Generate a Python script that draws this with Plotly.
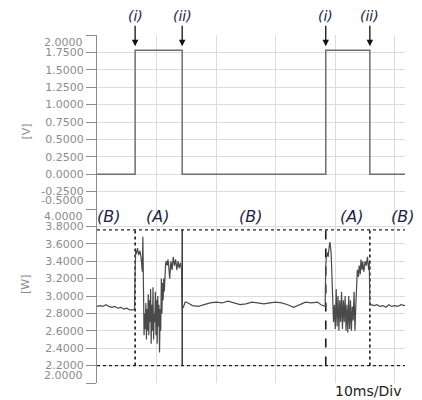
import plotly.graph_objects as go
from plotly.subplots import make_subplots

# ---------------- data ----------------
# Voltage trace (ms, V)
v_time = [0.0, 6.4, 6.4, 14.3, 14.3, 38.4, 38.4, 45.8, 45.8, 51.7]
v_vals = [0.0, 0.0, 1.78, 1.78, 0.0, 0.0, 1.78, 1.78, 0.0, 0.0]

# Power trace (ms, W)
p_time = [
    0.0, 0.5, 1.0, 1.5, 2.0, 2.5, 3.0, 3.5, 4.0, 4.5, 5.0, 5.5, 6.0, 6.3,
    6.4, 6.5, 6.6, 6.8, 7.0, 7.2, 7.4, 7.6, 7.7, 7.8, 7.9, 8.0, 8.1, 8.2, 8.3, 8.4,
    8.5, 8.6, 8.7, 8.8, 8.9, 9.0, 9.1, 9.2, 9.3, 9.4, 9.5, 9.6, 9.7, 9.8, 9.9,
    10.0, 10.1, 10.2, 10.3, 10.4, 10.5, 10.6, 10.7, 10.8, 10.9, 11.0, 11.1,
    11.2, 11.3, 11.5, 11.6, 11.8, 11.9, 12.0, 12.2, 12.4, 12.6, 12.8, 13.0,
    13.2, 13.4, 13.6, 13.8, 14.0, 14.2, 14.3, 14.5,
    14.8, 15.0, 15.5, 16.0, 17.0, 18.0, 19.0, 20.0, 21.0, 22.0, 23.0, 24.0,
    25.0, 26.0, 27.0, 28.0, 29.0, 30.0, 31.0, 32.0, 33.0, 34.0, 35.0, 36.0,
    37.0, 37.6, 38.3,
    38.4, 38.5, 38.7, 38.8, 39.0, 39.1, 39.3, 39.5, 39.6, 39.7, 39.85, 40.0,
    40.15, 40.3, 40.45, 40.6, 40.75, 40.9, 41.05, 41.2, 41.35, 41.5, 41.65, 41.8,
    41.95, 42.1, 42.25, 42.4, 42.55, 42.7, 42.85, 43.0, 43.15, 43.3, 43.45,
    43.6, 43.7, 43.9, 44.0, 44.2, 44.3, 44.5, 44.6, 44.8, 45.0, 45.2, 45.4,
    45.6, 45.7, 45.8,
    46.0, 46.5, 47.0, 47.5, 48.0, 48.5, 49.0, 49.5, 50.0, 50.5, 51.0, 51.7,
]
p_vals = [
    2.88, 2.89, 2.88, 2.90, 2.88, 2.87, 2.88, 2.86, 2.87, 2.85, 2.86, 2.84, 2.84, 2.85,
    3.30, 3.52, 3.48, 3.55, 3.47, 3.52, 3.44, 3.28, 3.68, 3.10, 2.55, 2.80, 2.62, 2.92, 2.50, 2.85,
    2.60, 3.02, 2.55, 2.95, 2.70, 3.08, 2.45, 2.90, 2.60, 3.10, 2.50, 2.80, 2.70, 3.05, 2.55,
    2.95, 2.45, 3.00, 2.65, 2.90, 2.35, 2.85, 2.60, 3.20, 2.80, 3.15, 2.95,
    3.20, 3.05, 3.35, 3.40, 3.35, 3.42, 3.38, 3.20, 3.40, 3.30, 3.45, 3.35,
    3.42, 3.30, 3.40, 3.32, 3.38, 3.30, 2.86, 2.87,
    2.93, 2.93, 2.91, 2.89, 2.88, 2.90, 2.92, 2.93, 2.92, 2.94, 2.92, 2.90,
    2.91, 2.93, 2.92, 2.91, 2.92, 2.93, 2.92, 2.90, 2.87, 2.90, 2.93, 2.92,
    2.93, 2.90, 2.88,
    3.35, 3.45, 3.50, 3.45, 3.58, 3.62, 3.50, 3.18, 3.05, 2.70, 2.90, 2.62,
    3.08, 2.65, 3.00, 2.60, 2.95, 2.70, 3.05, 2.62, 2.95, 2.70, 3.00, 2.60,
    2.90, 2.58, 3.00, 2.62, 2.95, 2.60, 2.88, 2.72, 3.05, 2.60, 2.90,
    3.20, 3.30, 3.22, 3.35, 3.25, 3.42, 3.30, 3.40, 3.28, 3.40, 3.35, 3.45,
    3.30, 3.38, 2.92,
    2.90, 2.89, 2.90, 2.88, 2.89, 2.87, 2.90, 2.88, 2.89, 2.88, 2.90, 2.89,
]

# Tick labels
v_ticks = [-0.5, -0.25, 0.0, 0.25, 0.5, 0.75, 1.0, 1.25, 1.5, 1.75, 2.0]
v_ticktext = ["", "-0.2500", "0.0000", "0.2500", "0.5000", "0.7500", "1.0000",
              "1.2500", "1.5000", "1.7500", ""]
p_ticks = [2.0, 2.2, 2.4, 2.6, 2.8, 3.0, 3.2, 3.4, 3.6, 3.8, 4.0]
p_ticktext = ["", "2.2000", "2.4000", "2.6000", "2.8000", "3.0000", "3.2000",
              "3.4000", "3.6000", "3.8000", ""]
x_ticks = [0, 10, 20, 30, 40, 50]

# Region box (dashed) markers
box_top, box_bottom = 3.76, 2.2
box_edges = [6.4, 14.3, 38.4, 45.8]
edge_dash = ["dot", "solid", "dash", "dot"]

# Region labels
region_labels = ["(B)", "(A)", "(B)", "(A)", "(B)"]
region_x = [1.85, 10.1, 25.7, 42.8, 51.2]
arrow_labels = ["(i)", "(ii)", "(i)", "(ii)"]
arrow_x = [6.4, 14.3, 38.4, 45.8]

X_MAX = 51.7

# ---------------- figure ----------------
fig = make_subplots(rows=2, cols=1, shared_xaxes=True, vertical_spacing=0)

fig.add_trace(go.Scatter(x=v_time, y=v_vals, mode="lines",
                         line=dict(color="#6e6e6e", width=1.5),
                         showlegend=False), row=1, col=1)

# horizontal dashed lines (full width)
for yv in [box_top, box_bottom]:
    fig.add_trace(go.Scatter(x=[0, X_MAX], y=[yv, yv], mode="lines",
                             line=dict(color="#222222", width=1.4, dash="dot"),
                             showlegend=False), row=2, col=1)
# vertical box lines
for xe, ds in zip(box_edges, edge_dash):
    fig.add_trace(go.Scatter(x=[xe, xe], y=[box_bottom, box_top], mode="lines",
                             line=dict(color="#1a1a1a", width=1.6 if ds != "solid" else 1.3, dash=ds),
                             showlegend=False), row=2, col=1)

fig.add_trace(go.Scatter(x=p_time, y=p_vals, mode="lines",
                         line=dict(color="#4a4a4a", width=1.2),
                         showlegend=False), row=2, col=1)

grid = "#dcdcdc"
tick_font = dict(family="DejaVu Sans", size=11, color="#8c8c8c")

for r in (1, 2):
    fig.update_xaxes(range=[0, X_MAX], tickvals=x_ticks, showticklabels=False,
                     showgrid=True, gridcolor=grid, gridwidth=1, zeroline=False,
                     showline=False, ticks="", row=r, col=1)

fig.update_yaxes(range=[-0.5, 2.0], tickvals=v_ticks, ticktext=v_ticktext,
                 showgrid=True, gridcolor=grid, zeroline=False,
                 showline=True, linecolor="#8c8c8c", linewidth=1.2,
                 ticks="outside", ticklen=10, tickcolor="#8c8c8c",
                 tickfont=tick_font, row=1, col=1)
fig.update_yaxes(range=[2.0, 4.0], tickvals=p_ticks, ticktext=p_ticktext,
                 showgrid=True, gridcolor=grid, zeroline=False,
                 showline=True, linecolor="#8c8c8c", linewidth=1.2,
                 ticks="outside", ticklen=10, tickcolor="#8c8c8c",
                 tickfont=tick_font, row=2, col=1)

annotations = []
# extreme tick labels shifted inward
for txt, yv, yref, ys in [("2.0000", 2.0, "y", -7), ("-0.5000", -0.5, "y", 9),
                          ("4.0000", 4.0, "y2", -7), ("2.0000", 2.0, "y2", 8)]:
    annotations.append(dict(text=txt, x=0, xref="paper", y=yv, yref=yref,
                            xanchor="right", yanchor="middle", xshift=-12, yshift=ys,
                            showarrow=False, font=tick_font))
# axis titles
annotations.append(dict(text="[V]", x=0, xref="paper", y=0.75, yref="paper",
                        xshift=-80, textangle=-90, showarrow=False,
                        font=dict(family="DejaVu Sans", size=11, color="#8c8c8c")))
annotations.append(dict(text="[W]", x=0, xref="paper", y=0.25, yref="paper",
                        xshift=-80, textangle=-90, showarrow=False,
                        font=dict(family="DejaVu Sans", size=11, color="#8c8c8c")))
# arrows (i)/(ii)
lab_font = dict(family="DejaVu Sans", size=14, color="#1e1e46")
for txt, xv in zip(arrow_labels, arrow_x):
    annotations.append(dict(text="<i>%s</i>" % txt, x=xv, xref="x", y=1.78, yref="y",
                            yshift=4, ax=0, ay=-30, showarrow=True, arrowhead=2,
                            arrowsize=1, arrowwidth=1.3, arrowcolor="#111111",
                            font=lab_font))
# region labels
reg_font = dict(family="DejaVu Sans", size=16, color="#1e1e46")
for txt, xv in zip(region_labels, region_x):
    annotations.append(dict(text="<i>%s</i>" % txt, x=xv, xref="x", y=3.91, yref="y2",
                            showarrow=False, font=reg_font))
annotations.append(dict(text="10ms/Div", x=1, xref="paper", y=0, yref="paper",
                        xanchor="right", yanchor="top", xshift=-2, yshift=2,
                        showarrow=False,
                        font=dict(family="DejaVu Sans", size=14, color="#222222")))

# The page body has an 8px margin, so the figure is sized/offset to land
# the plot area where the reference has it.
fig.update_layout(width=414, height=392, margin=dict(l=89, r=17, t=27, b=17),
                  paper_bgcolor="white", plot_bgcolor="white",
                  annotations=annotations, showlegend=False)

fig.write_html("out.html")
